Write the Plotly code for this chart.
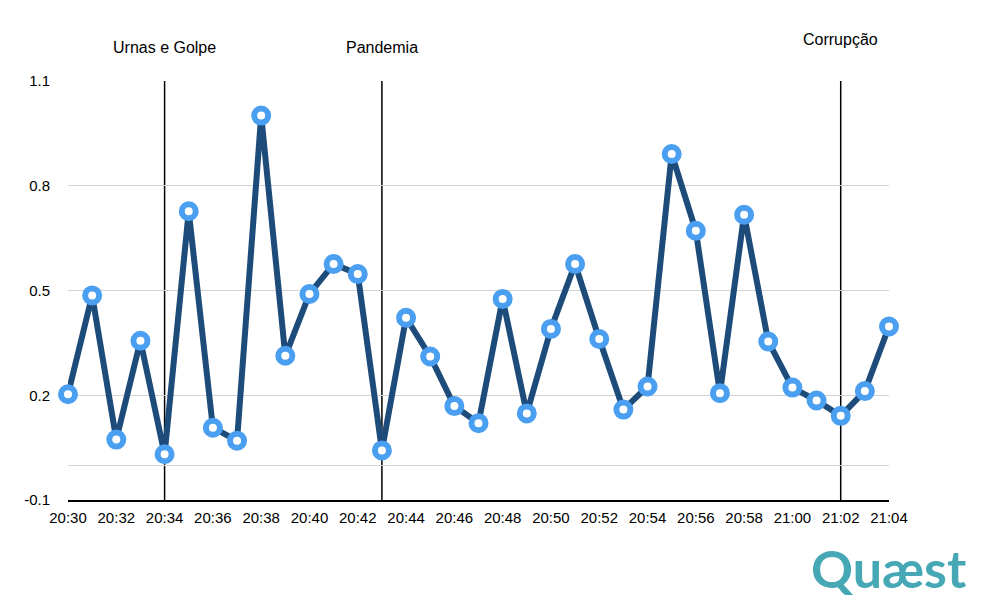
import plotly.graph_objects as go

times = ["20:30", "20:31", "20:32", "20:33", "20:34", "20:35", "20:36", "20:37",
         "20:38", "20:39", "20:40", "20:41", "20:42", "20:43", "20:44", "20:45",
         "20:46", "20:47", "20:48", "20:49", "20:50", "20:51", "20:52", "20:53",
         "20:54", "20:55", "20:56", "20:57", "20:58", "20:59", "21:00", "21:01",
         "21:02", "21:03", "21:04"]
values = [0.203, 0.486, 0.073, 0.356, 0.031, 0.727, 0.107, 0.070,
          1.001, 0.313, 0.490, 0.576, 0.547, 0.042, 0.422, 0.311,
          0.169, 0.120, 0.476, 0.148, 0.390, 0.576, 0.361, 0.159,
          0.225, 0.891, 0.671, 0.206, 0.717, 0.354, 0.222, 0.185,
          0.141, 0.212, 0.397]
y_ticks = [-0.1, 0.2, 0.5, 0.8, 1.1]
y_tick_labels = ["-0.1", "0.2", "0.5", "0.8", "1.1"]
event_times = ["20:34", "20:43", "21:02"]
event_labels = ["Urnas e Golpe", "Pandemia", "Corrupção"]
event_label_y = [1.079, 1.079, 1.098]

FONT = "Liberation Sans, Arial, Helvetica, sans-serif"
L, R, T, B = 67.5, 94.5, 81.3, 110
W, H = 984, 610
PW, PH = W - L - R, H - T - B

fig = go.Figure()
fig.add_trace(go.Scatter(
    x=times, y=values, mode="lines+markers",
    line=dict(color="#1d4b7a", width=6),
    marker=dict(symbol="circle", size=14, color="white",
                line=dict(color="#4a9ff0", width=6)),
    cliponaxis=False,
    hoverinfo="x+y", showlegend=False,
))

shapes = []
annotations = []
for t, lab, ly in zip(event_times, event_labels, event_label_y):
    shapes.append(dict(type="line", xref="x", yref="paper", x0=t, x1=t, y0=0, y1=1,
                       line=dict(color="black", width=1.5), layer="below"))
    annotations.append(dict(x=t, xref="x", y=ly, yref="paper", text=lab, showarrow=False,
                            xanchor="center", yanchor="middle",
                            font=dict(family=FONT, size=16, color="black")))

annotations.append(dict(x=(890 - L) / PW, xref="paper",
                        y=(H - B - 568) / PH, yref="paper",
                        text="<b>Quæst</b>", showarrow=False, xanchor="center", yanchor="middle",
                        font=dict(family="Lato, Liberation Sans, Arial, sans-serif", size=52,
                                  color="#45a8b4")))

fig.update_layout(
    width=W, height=H,
    margin=dict(l=L, r=R, t=T, b=B, autoexpand=False),
    paper_bgcolor="white", plot_bgcolor="white",
    font=dict(family=FONT, size=15, color="black"),
    xaxis=dict(type="category", range=[0, len(times) - 1],
               tickmode="array", tickvals=times[::2], ticktext=times[::2],
               showgrid=False, zeroline=False,
               showline=True, linecolor="black", linewidth=1.5,
               ticks="outside", ticklen=3, tickcolor="rgba(0,0,0,0)",
               tickfont=dict(size=15)),
    yaxis=dict(range=[-0.1, 1.1], tickmode="array", tickvals=y_ticks, ticktext=y_tick_labels,
               showgrid=True, gridcolor="#d3d3d3", gridwidth=1,
               zeroline=True, zerolinecolor="#d3d3d3", zerolinewidth=1,
               showline=False, ticks="", ticklabelstandoff=17,
               tickfont=dict(size=15)),
    shapes=shapes,
    annotations=annotations,
)

fig.write_html("out.html", config={"displayModeBar": False},
               post_script="document.body.style.margin='0';")
